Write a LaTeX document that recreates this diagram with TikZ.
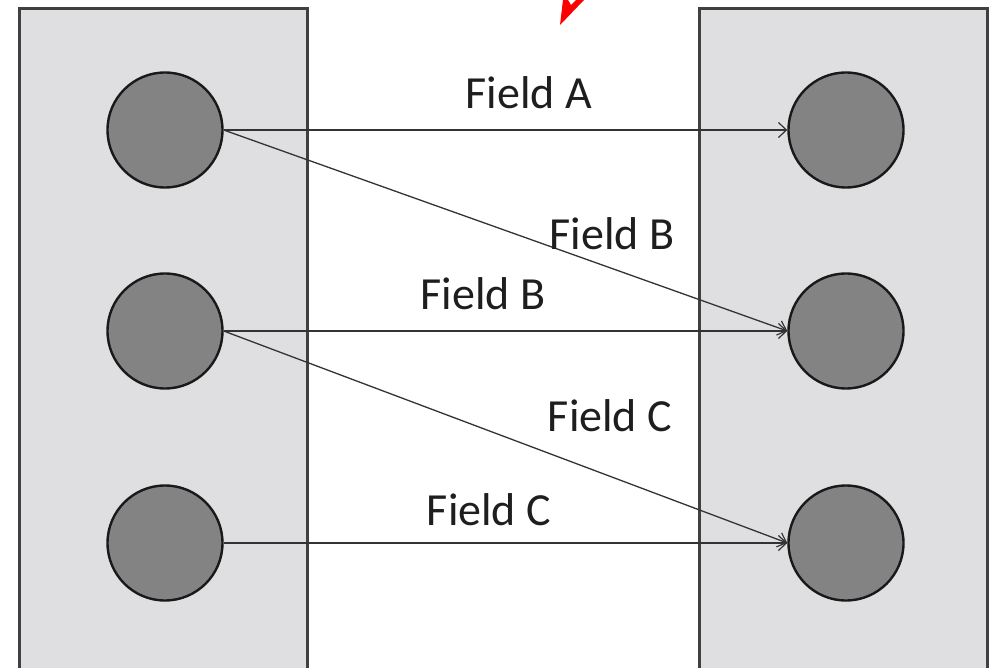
\documentclass[tikz,border=0pt]{standalone}
\usepackage{fontspec}
\setmainfont{Carlito}
\usetikzlibrary{arrows.meta}
\definecolor{panelfill}{HTML}{DFDFE1}
\definecolor{panelline}{HTML}{404040}
\definecolor{dotfill}{HTML}{838383}
\definecolor{wire}{HTML}{333333}
\definecolor{inktext}{HTML}{1E1E1E}
\tikzset{
  panel/.style={draw=panelline, line width=3.2pt, fill=panelfill},
  dot/.style={circle, draw=black!90, line width=2.4pt, fill=dotfill, minimum size=115pt, inner sep=0pt},
  link/.style={draw=wire, line width=1.3pt, -{Straight Barb[length=8pt,width=15pt,line width=1.2pt]}},
  fieldlabel/.style={anchor=base, text=inktext, font=\fontsize{46}{54}\selectfont, inner sep=0pt}
}
\begin{document}
\begin{tikzpicture}[x=1pt, y=-1pt]
  \useasboundingbox (0,0) rectangle (991,668);
  \begin{scope}
    \clip (0,0) rectangle (991,668);
    % side panels
    \draw[panel] (19.5,8.5) rectangle (307.5,690);
    \draw[panel] (699.5,8.5) rectangle (987.5,690);
    % partial red pointer at the top edge
    \fill[red] (560,25) -- (563,0) -- (568,0) -- (571,5) -- (576,0) -- (584,0) -- cycle;
  \end{scope}

  % source records
  \node[dot] (a1) at (165,130) {};
  \node[dot] (a2) at (165,331) {};
  \node[dot] (a3) at (165,543) {};
  % target records
  \node[dot] (b1) at (846,130) {};
  \node[dot] (b2) at (846,331) {};
  \node[dot] (b3) at (846,543) {};

  % field mappings
  \draw[link] (a1.east) -- (b1.west);
  \draw[link] (a1.east) -- (b2.west);
  \draw[link] (a2.east) -- (b2.west);
  \draw[link] (a2.east) -- (b3.west);
  \draw[link] (a3.east) -- (b3.west);

  \node[fieldlabel] (la) at (529,109) {Field A};
  \node[fieldlabel] (lb1) at (612,250) {Field B};
  \node[fieldlabel] (lb2) at (483,310) {Field B};
  \node[fieldlabel] (lc1) at (610,431) {Field C};
  \node[fieldlabel] (lc2) at (489,525) {Field C};
\end{tikzpicture}
\end{document}
